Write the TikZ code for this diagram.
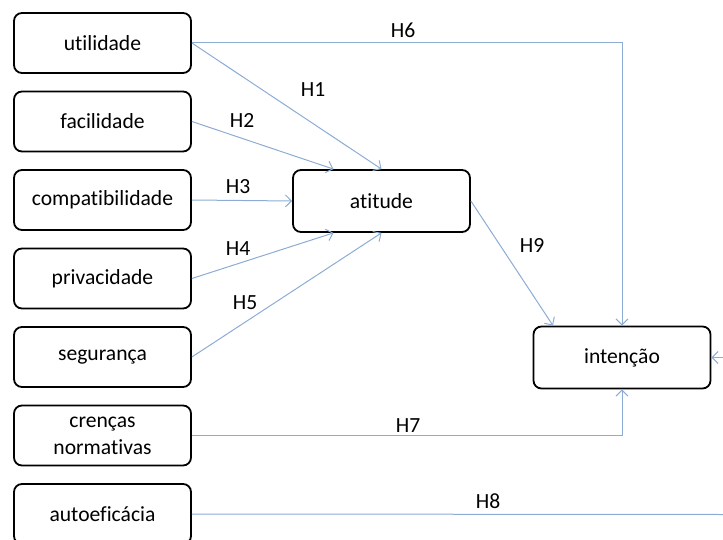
\documentclass[tikz,border=0pt]{standalone}
\usepackage{fontspec}
\setmainfont{Carlito}[Ligatures={NoCommon}]
\usetikzlibrary{positioning, arrows.meta}
\definecolor{linkblue}{RGB}{140,172,212}
\tikzset{
  factor/.style={
    rectangle,
    rounded corners=4pt,
    minimum width=88.5pt,
    minimum height=30pt,
    inner ysep=0pt,
    align=center,
    draw=black,
    line width=0.9pt,
    font=\fontsize{10.8}{13.5}\selectfont
    },
  link/.style={draw=linkblue, line width=0.5pt, -{Straight Barb[length=3pt,width=6pt]}},
  plain/.style={draw=linkblue, line width=0.5pt},
  hyp/.style={font=\fontsize{10.8}{12}\selectfont, inner sep=0pt},
}

\begin{document}
\begin{tikzpicture}[
    x = 0.5pt, y = -0.5pt, % pixel grid, y runs down
    node distance = 8.35pt and 0pt % gap between the boxes on the left
  ]
  \useasboundingbox (0,0) rectangle (723,540);
  \clip (0,0) rectangle (723,540);

  % left column
  \node[factor] (util) at (102.5,43) {utilidade};
  \node[factor] (facil) [below=of util] {facilidade};
  \node[factor] (compat) [below=of facil] {compatibilidade};
  \node[factor] (priv) [below=of compat] {privacidade};
  \node[factor] (seg) [below=of priv] {segurança};
  \node[factor] (cren) [below=of seg] {crenças\\normativas};
  \node[factor] (autoef) [below=of cren] {autoeficácia};

  % middle and right
  \node[factor, minimum height=31pt] (atit) at (381.5,201) {atitude};
  \node[factor, minimum height=31pt] (inten) at (622,357.5) {intenção};

  \coordinate (rim) at (723,357.5);
  \coordinate (rimlow) at (723,514.5);

  % paths
  \draw[link] (util.east) -- (atit.north);
  \draw[link] (facil.east) -- ([xshift=-24pt]atit.north);
  \draw[link] (compat.east) -- (atit.west);
  \draw[link] (priv.east) -- ([xshift=-24pt]atit.south);
  \draw[link] (seg.east) -- (atit.south);
  \draw[link] (util.east) -| (inten.north);
  \draw[link] (cren.east) -| (inten.south);
  \draw[plain] (autoef.east) -- (rimlow);
  \draw[link] (atit.east) -- ([xshift=-34.5pt]inten.north);
  \draw[link] (rim) -- (inten.east);

  % labels
  \node[hyp] (h1) at (313,90) {H1};
  \node[hyp] (h2) at (242,120) {H2};
  \node[hyp] (h3) at (238,187) {H3};
  \node[hyp] (h4) at (238,249) {H4};
  \node[hyp] (h5) at (245,303) {H5};
  \node[hyp] (h6) at (403,30) {H6};
  \node[hyp] (h7) at (408,426) {H7};
  \node[hyp] (h8) at (488,501) {H8};
  \node[hyp] (h9) at (532,245) {H9};
\end{tikzpicture}
\end{document}
